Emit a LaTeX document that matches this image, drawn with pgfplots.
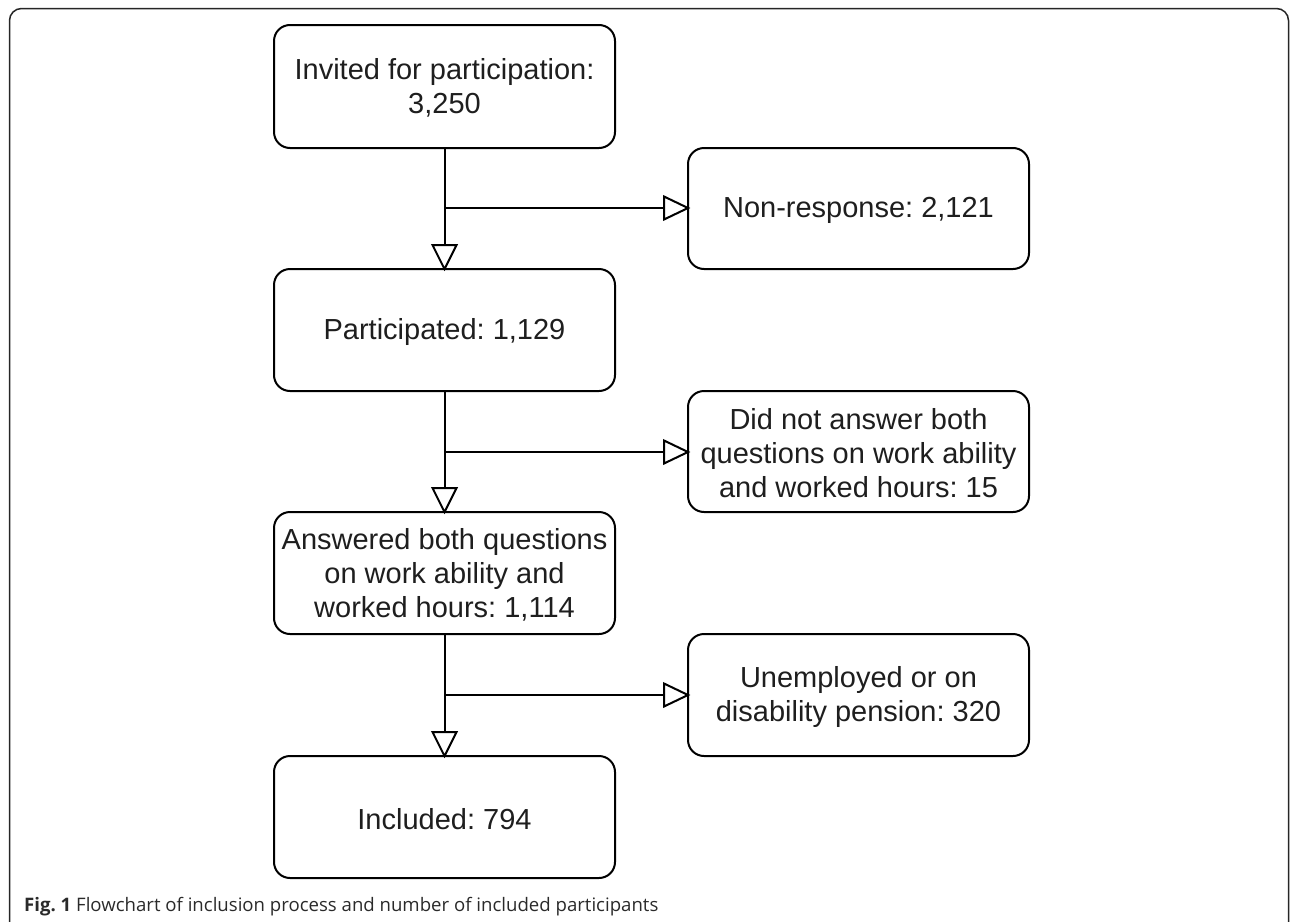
\documentclass[border=0pt]{standalone}
\usepackage{fontspec}
\setmainfont{Liberation Sans}
\newfontfamily\capfont{Open Sans}
\usepackage{pgfplots}
\pgfplotsset{compat=1.18}
\definecolor{txt}{HTML}{1E1E1E}
\definecolor{captxt}{HTML}{2A2A2A}
\newcommand\boxfont{\fontsize{29}{34}\selectfont}
% box: x1,y1,x2,y2,cx,cy,text
\newcommand\flowbox[7]{%
  \draw[line width=2pt, rounded corners=16pt] (axis cs:#1,#2) rectangle (axis cs:#3,#4);
  \node[align=center, font=\boxfont, text=txt, inner sep=0pt] at (axis cs:#5,#6) {#7};}
% down arrow head: x, tip y
\newcommand\downhead[2]{%
  \draw[line width=2pt, fill=white, line join=miter] (axis cs:#1-12,#2-24) -- (axis cs:#1+12,#2-24) -- (axis cs:#1,#2) -- cycle;}
\newcommand\righthead[2]{%
  \draw[line width=2pt, fill=white, line join=miter] (axis cs:#1-24,#2-11.5) -- (axis cs:#1-24,#2+11.5) -- (axis cs:#1,#2) -- cycle;}
\frenchspacing
\begin{document}
\frenchspacing
\begin{tikzpicture}
\path[use as bounding box] (0,0) rectangle (1290pt,921pt);
\begin{axis}[at={(0,0)}, anchor=south west, scale only axis,
  width=1290pt, height=921pt, xmin=0, xmax=1290, ymin=0, ymax=921,
  y dir=reverse, hide axis, clip=false]
% outer frame
\draw[line width=1.5pt, color=black!85, rounded corners=12pt]
  (axis cs:9.5,930) -- (axis cs:9.5,8.5) -- (axis cs:1288.5,8.5) -- (axis cs:1288.5,930);
% connectors
\addplot[line width=2pt, black] coordinates {(444.5,148) (444.5,245)};
\addplot[line width=2pt, black] coordinates {(444.5,208) (664,208)};
\addplot[line width=2pt, black] coordinates {(444.5,391) (444.5,488)};
\addplot[line width=2pt, black] coordinates {(444.5,452) (664,452)};
\addplot[line width=2pt, black] coordinates {(444.5,634) (444.5,732)};
\addplot[line width=2pt, black] coordinates {(444.5,695) (664,695)};
% boxes
\flowbox{274}{25}{615}{148}{444.5}{88}{Invited for participation:\\3,250}
\flowbox{688}{148}{1029}{269}{858.5}{210}{Non-response: 2,121}
\flowbox{274}{269}{615}{391}{444.5}{332}{Participated: 1,129}
\flowbox{688}{391}{1029}{512}{858.5}{453}{Did not answer both\\questions on work ability\\and worked hours: 15}
\flowbox{274}{512}{615}{634}{444.5}{575}{Answered both questions\\on work ability and\\worked hours: 1,114}
\flowbox{688}{634}{1029}{756}{858.5}{697}{Unemployed or on\\disability pension: 320}
\flowbox{274}{756}{615}{878}{444.5}{819}{Included: 794}
% arrow heads
\downhead{444.5}{269}
\downhead{444.5}{512}
\downhead{444.5}{756}
\righthead{688}{208}
\righthead{688}{452}
\righthead{688}{695}
% caption
\node[anchor=base west, inner sep=0pt, text=captxt, font={\capfont\fontsize{18.6}{22}\selectfont}]
  at (axis cs:24,911) {\textbf{Fig. 1} Flowchart of inclusion process and number of included participants};
\end{axis}
\end{tikzpicture}
\end{document}
